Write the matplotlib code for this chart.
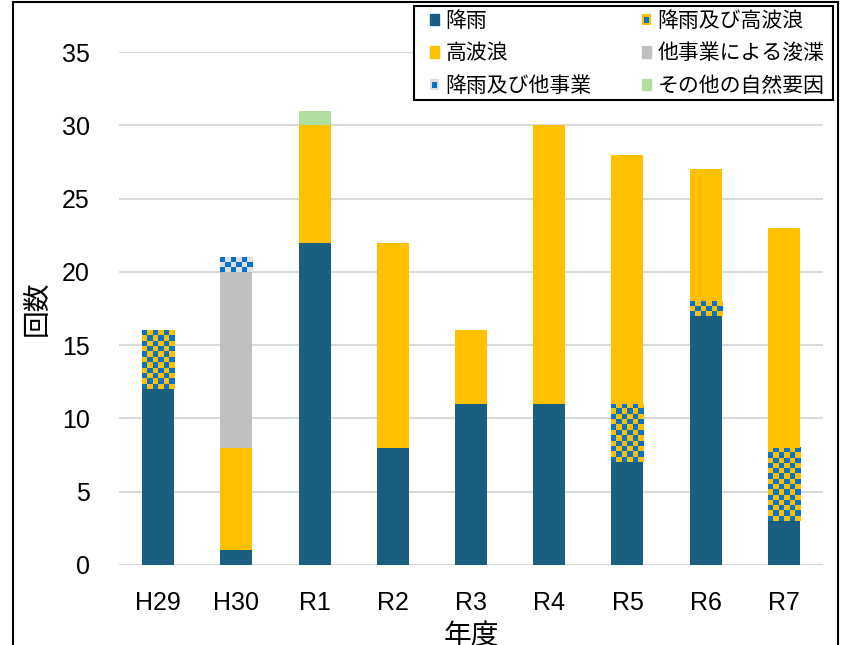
import numpy as np
import matplotlib
matplotlib.use("Agg")
import matplotlib.pyplot as plt
from matplotlib.patches import Rectangle, Patch
from matplotlib.colors import ListedColormap
from matplotlib.legend_handler import HandlerBase

plt.rcParams['font.family'] = ['Liberation Sans', 'Noto Sans CJK JP', 'DejaVu Sans']

years = ['H29', 'H30', 'R1', 'R2', 'R3', 'R4', 'R5', 'R6', 'R7']
rain = [12, 1, 22, 8, 11, 11, 7, 17, 3]
rain_wave = [4, 0, 0, 0, 0, 0, 4, 1, 5]
wave = [0, 7, 8, 14, 5, 19, 17, 9, 15]
dredge = [0, 12, 0, 0, 0, 0, 0, 0, 0]
rain_dredge = [0, 1, 0, 0, 0, 0, 0, 0, 0]
other = [0, 0, 1, 0, 0, 0, 0, 0, 0]

C_RAIN = '#1A5E80'
C_WAVE = '#FFC000'
C_DREDGE = '#BFBFBF'
C_OTHER = '#B0DFA0'
C_CHECK_BLUE = '#0A72C6'
C_CHECK_LIGHT = '#DCE0E4'

W = 0.41
CELL_X = 0.068   # checker cell size in data units
CELL_Y = 0.36

fig = plt.figure(figsize=(8.44, 6.45), dpi=100)
ax = fig.add_axes([119 / 844, 1 - 565 / 645, 704 / 844, 513 / 645])


def checker_bar(x, bottom, height, c1, c2):
    if height <= 0:
        return
    nx = max(1, int(round(W / CELL_X)))
    ny = max(1, int(round(height / CELL_Y)))
    grid = (np.add.outer(np.arange(ny), np.arange(nx)) % 2)
    ax.imshow(grid, cmap=ListedColormap([c1, c2]), aspect='auto',
              interpolation='nearest', origin='lower',
              extent=(x - W / 2, x + W / 2, bottom, bottom + height), zorder=3)


xs = np.arange(len(years))
for i, x in enumerate(xs):
    b = 0
    ax.bar(x, rain[i], W, bottom=b, color=C_RAIN, zorder=3)
    b += rain[i]
    checker_bar(x, b, rain_wave[i], C_CHECK_BLUE, C_WAVE)
    b += rain_wave[i]
    ax.bar(x, wave[i], W, bottom=b, color=C_WAVE, zorder=3)
    b += wave[i]
    ax.bar(x, dredge[i], W, bottom=b, color=C_DREDGE, zorder=3)
    b += dredge[i]
    checker_bar(x, b, rain_dredge[i], C_CHECK_BLUE, C_CHECK_LIGHT)
    b += rain_dredge[i]
    ax.bar(x, other[i], W, bottom=b, color=C_OTHER, zorder=3)

ax.set_xlim(-0.5, len(years) - 0.5)
ax.set_ylim(0, 35)
ax.set_yticks(range(0, 36, 5))
ax.set_xticks(xs)
ax.set_xticklabels(years)
ax.grid(axis='y', color='#D9D9D9', linewidth=1.5, zorder=0)
ax.set_axisbelow(True)
for s in ax.spines.values():
    s.set_visible(False)
ax.tick_params(axis='both', length=0, labelsize=18)
ax.tick_params(axis='y', pad=21)
ax.tick_params(axis='x', pad=19)
ax.set_ylabel('回数', fontsize=20, labelpad=8)
ax.set_xlabel('年度', fontsize=20, labelpad=6)


class CheckerHandler(HandlerBase):
    def __init__(self, c1, c2):
        super().__init__()
        self.c1, self.c2 = c1, c2

    def create_artists(self, legend, orig_handle, xdescent, ydescent,
                       width, height, fontsize, trans):
        x0, y0 = -xdescent, -ydescent
        outer = Rectangle((x0, y0), width, height, facecolor=self.c2,
                          edgecolor='none', transform=trans)
        inner = Rectangle((x0 + width * 0.2, y0 + height * 0.2), width * 0.55,
                          height * 0.55, facecolor=self.c1, edgecolor='none',
                          transform=trans)
        return [outer, inner]


h_rain = Patch(color=C_RAIN)
h_wave = Patch(color=C_WAVE)
h_rd = Patch(color='none')
h_rw = Patch(color='none', label='x')
h_dredge = Patch(color=C_DREDGE)
h_other = Patch(color=C_OTHER)

# legend box drawn separately so its padding can differ from the entries
fig.patches.append(Rectangle((414 / 844, 1 - 100 / 645), 419 / 844, 94 / 645,
                             transform=fig.transFigure, facecolor='white',
                             edgecolor='black', linewidth=1.5, zorder=4))

handles = [h_rain, h_wave, h_rd, h_rw, h_dredge, h_other]
labels = ['降雨', '高波浪', '降雨及び他事業', '降雨及び高波浪', '他事業による浚渫', 'その他の自然要因']
leg = fig.legend(handles, labels, ncol=2, loc='upper left',
                 bbox_to_anchor=(430 / 844, 1 - 10 / 645),
                 bbox_transform=fig.transFigure, borderaxespad=0,
                 fontsize=15, handlelength=0.45, handleheight=0.45,
                 handletextpad=0.3, columnspacing=2.4, labelspacing=0.5,
                 borderpad=0, frameon=False,
                 handler_map={h_rw: CheckerHandler(C_CHECK_BLUE, C_WAVE),
                              h_rd: CheckerHandler(C_CHECK_BLUE, C_CHECK_LIGHT)})
leg.set_zorder(5)
for t in leg.get_texts():
    t.set_family(['Noto Sans CJK JP', 'DejaVu Sans'])

# outer frame around the figure
fig.patches.append(Rectangle((13 / 844, -0.1), 825 / 844, 1.1 - 2 / 645,
                             transform=fig.transFigure, fill=False,
                             edgecolor='black', linewidth=1.5))

fig.savefig('out.png', dpi=100)
